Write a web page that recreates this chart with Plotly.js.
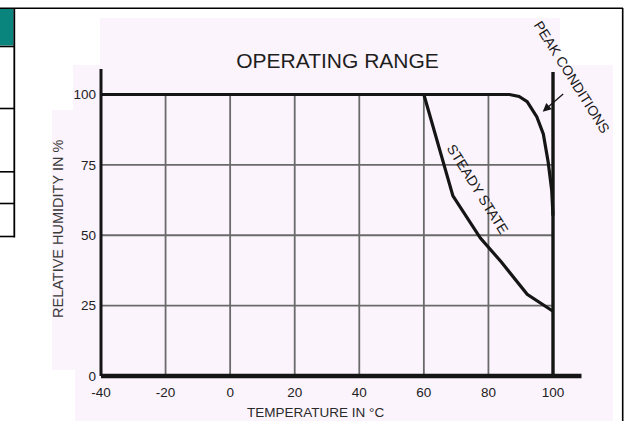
<!DOCTYPE html>
<html>
<head>
<meta charset="utf-8">
<script src="https://cdn.plot.ly/plotly-3.0.1.min.js"></script>
<style>html,body{margin:0;padding:0;background:#fff;}#chart{width:625px;height:421px;}</style>
</head>
<body>
<div id="chart"></div>
<script>
// ---- data ----
const steadyTemp = [60, 69, 77.5, 84, 92, 95.5, 100];
const steadyHum  = [100, 64, 49, 40.5, 29, 26.3, 23];
const peakTemp = [-40, 86.5, 89.5, 92, 95, 97, 98.5, 99.6, 100];
const peakHum  = [100, 100, 99.3, 97.5, 92, 86, 76, 66, 57];
const xTicks = [-40, -20, 0, 20, 40, 60, 80, 100];
const yTicks = [0, 25, 50, 75, 100];
const xGrid = [-20, 0, 20, 40, 60, 80];
const yGrid = [25, 50, 75];
const titleText = "OPERATING RANGE";
const xTitle = "TEMPERATURE IN °C";
const yTitle = "RELATIVE HUMIDITY IN %";
const steadyLabel = "STEADY STATE";
const peakLabel = "PEAK CONDITIONS";

// ---- layout geometry (pixels) ----
const W = 625, H = 421;
const L = 99, R = 10, T = 20, B = 42;
const PW = W - L - R, PH = H - T - B;
const X0PX = 101, X1PX = 553;   // -40 and 100
const Y0PX = 376, Y1PX = 94.5;  // 0 and 100
const sx = (X1PX - X0PX) / 140, sy = (Y0PX - Y1PX) / 100;
const xRange = [-40 - (X0PX - L) / sx, -40 + (L + PW - X0PX) / sx];
const yRange = [(Y0PX - (H - B)) / sy, (Y0PX - T) / sy];
const fx = px => (px - L) / PW;
const fy = py => (H - B - py) / PH;

const FONT = "Liberation Sans, Arial, Helvetica, sans-serif";
const INK = "#151515";
const GRID = "#6a6a6a";
const PINK = "#fcf4fc";

const shapes = [];
// pink scanned-image background
const pinkPts = [[100,18],[560,18],[560,65],[613,65],[613,421],[75,421],[75,370],[52,370],[52,110],[73,110],[73,65],[100,65]];
shapes.push({type:"path", xref:"paper", yref:"paper", layer:"below",
  path: "M" + pinkPts.map(p => fx(p[0]).toFixed(5) + "," + fy(p[1]).toFixed(5)).join(" L") + " Z",
  fillcolor: PINK, line:{width:0}});
// page frame and clipped table on the left
const pl = (x0,y0,x1,y1,w) => shapes.push({type:"line", xref:"paper", yref:"paper", x0:fx(x0), y0:fy(y0), x1:fx(x1), y1:fy(y1), line:{color:"#000", width:w}});
shapes.push({type:"rect", xref:"paper", yref:"paper", x0:fx(-2), x1:fx(13.5), y0:fy(9), y1:fy(45.5), fillcolor:"#0a857d", line:{width:0}, layer:"below"});
pl(-2, 8.3, 623, 8.3, 1.6);
pl(622.7, 8, 622.7, 421, 1.6);
pl(14.3, 8, 14.3, 237.5, 1.8);
[46.5, 108.5, 171.8, 203.5, 236.5].forEach(y => pl(-2, y, 14.3, y, 1.6));

// grid lines limited to the -40..100 x 0..100 box
xGrid.forEach(v => shapes.push({type:"line", xref:"x", yref:"y", x0:v, x1:v, y0:0, y1:100, layer:"below", line:{color:GRID, width:1.8}}));
yGrid.forEach(v => shapes.push({type:"line", xref:"x", yref:"y", x0:-40, x1:100, y0:v, y1:v, layer:"below", line:{color:GRID, width:1.8}}));
// axes and the 100 °C limit line
shapes.push({type:"line", xref:"x", yref:"y", x0:-40, x1:-40, y0:0, y1:(Y0PX-69)/sy, line:{color:INK, width:3}});
shapes.push({type:"line", xref:"x", yref:"y", x0:-40, x1:-40 + (581.5-X0PX)/sx, y0:0, y1:0, line:{color:INK, width:4.5}});
shapes.push({type:"line", xref:"x", yref:"y", x0:100, x1:100, y0:0, y1:(Y0PX-72)/sy, line:{color:INK, width:3.4}});

const traces = [
  {x: peakTemp, y: peakHum, mode:"lines", name: peakLabel, line:{color:INK, width:3.2}, hoverinfo:"skip"},
  {x: steadyTemp, y: steadyHum, mode:"lines", name: steadyLabel, line:{color:INK, width:3.2}, hoverinfo:"skip"}
];

const annotations = [
  {xref:"paper", yref:"paper", x:fx(315.5), y:fy(413), text:xTitle, showarrow:false, xanchor:"center", yanchor:"middle", font:{family:FONT, size:13.5, color:"#2a2a2a"}},
  {xref:"paper", yref:"paper", x:fx(57.5), y:fy(229.5), text:yTitle, textangle:-90, showarrow:false, xanchor:"center", yanchor:"middle", font:{family:FONT, size:14.5, color:"#3a3a3a"}},
  {xref:"x", yref:"y", x:76.6, y:66.3, text:steadyLabel, textangle:58, showarrow:false, font:{family:FONT, size:14, color:"#1a1a1a"}},
  {xref:"x", yref:"y", x:105.8, y:106.1, text:peakLabel, textangle:57.8, showarrow:false, font:{family:FONT, size:14, color:"#1a1a1a"}},
  {xref:"x", yref:"y", x:96.8, y:93.9, ax:22, ay:-19, text:"", showarrow:true, arrowhead:2, arrowsize:1.3, arrowwidth:1.3, arrowcolor:INK, standoff:0}
];

const layout = {
  width: W, height: H,
  margin: {l:L, r:R, t:T, b:B, pad:0},
  paper_bgcolor: "#ffffff",
  plot_bgcolor: "rgba(0,0,0,0)",
  showlegend: false,
  title: {text: titleText, x: 337.5 / W, xref:"container", xanchor:"center", y: 1 - 60.5 / H, yref:"container", yanchor:"middle", font:{family:FONT, size:21, color:"#1e1e1e"}},
  xaxis: {range: xRange, tickvals: xTicks, ticktext: xTicks.map(String), showgrid:false, zeroline:false, showline:false, ticks:"", ticklabelstandoff:3, tickfont:{family:FONT, size:13.5, color:"#222"}, fixedrange:true},
  yaxis: {range: yRange, tickvals: yTicks, ticktext: yTicks.map(String), showgrid:false, zeroline:false, showline:false, ticks:"", ticklabelstandoff:2, tickfont:{family:FONT, size:13.5, color:"#222"}, fixedrange:true},
  shapes: shapes,
  annotations: annotations
};

Plotly.newPlot("chart", traces, layout, {staticPlot:true, displayModeBar:false});
</script>
</body>
</html>
